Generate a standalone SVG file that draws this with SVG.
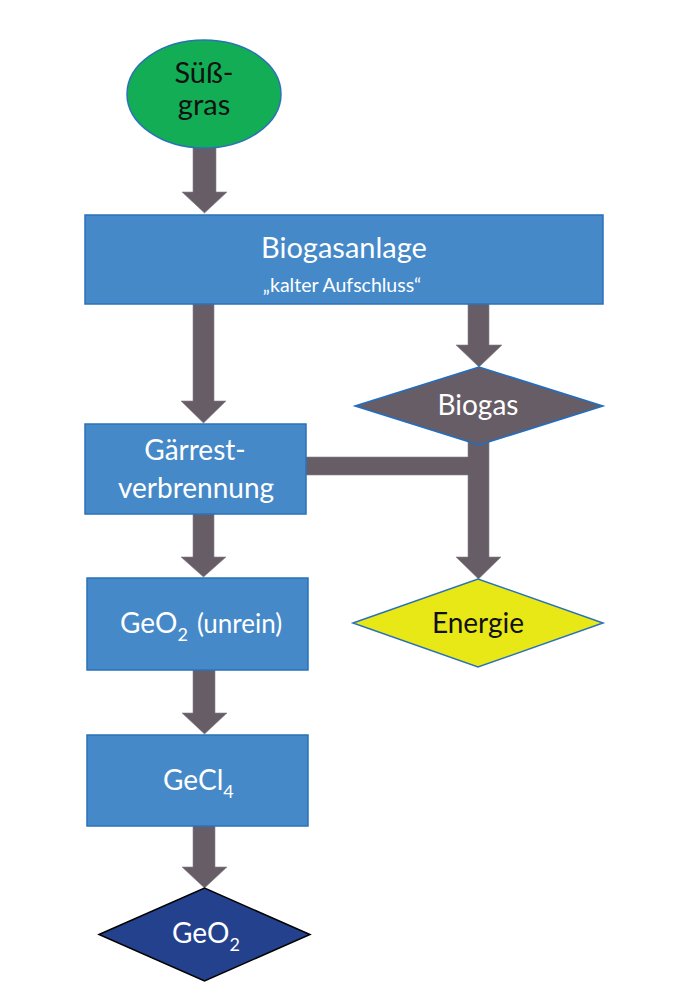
<svg xmlns="http://www.w3.org/2000/svg" width="677" height="1000" viewBox="0 0 677 1000">
  <style>
    .arrow { fill: #675D66; stroke: #8A8289; stroke-width: 0.6; }
    .box { fill: #4589C9; stroke: #2A72B8; stroke-width: 1.5; }
    .lbl { font-family: Lato, "Open Sans", "Liberation Sans", sans-serif; font-size: 28px; fill: #FFFFFF; text-anchor: middle; }
    .dark { fill: #111111; }
    .sub { font-size: 18px; }
  </style>
  <rect width="677" height="1000" fill="#FFFFFF"/>
  <g id="connectors">
    <polygon class="arrow" points="193,146 216,146 216,192 227,192 204.5,213 182,192 193,192"/>
    <polygon class="arrow" points="193,304 214,304 214,401 226,401 203.5,423 181,401 193,401"/>
    <polygon class="arrow" points="468,304 489,304 489,345 502,345 479,367 456,345 468,345"/>
    <polygon class="arrow" points="306,457 468,457 468,440 489,440 489,557 501,557 478.5,579 456,557 468,557 468,475 306,475"/>
    <polygon class="arrow" points="193,514 214,514 214,557 226,557 203.5,577 181,557 193,557"/>
    <polygon class="arrow" points="193,670 215,670 215,713 227,713 204.5,734 182,713 193,713"/>
    <polygon class="arrow" points="193,826 215,826 215,867 227,867 204.5,888 182,867 193,867"/>
  </g>
  <g id="suessgras">
    <ellipse cx="204" cy="94" rx="77" ry="54" fill="#12AD55" stroke="#2A72B8" stroke-width="1.5"/>
    <text class="lbl dark" x="204" y="83" style="font-size:29px">Süß-</text>
    <text class="lbl dark" x="204" y="115" style="font-size:29px">gras</text>
  </g>
  <g id="biogasanlage">
    <rect class="box" x="85" y="215" width="518" height="89"/>
    <text class="lbl" x="344" y="258" style="font-size:29px">Biogasanlage</text>
    <text class="lbl" x="342" y="292" style="font-size:19.5px">„kalter Aufschluss“</text>
  </g>
  <g id="biogas">
    <polygon points="355,406 479,367 603,406 479,445" fill="#675D66" stroke="#1F6FC4" stroke-width="1.5"/>
    <text class="lbl" x="478" y="415">Biogas</text>
  </g>
  <g id="gaerrest">
    <rect class="box" x="85" y="424" width="221" height="90"/>
    <text class="lbl" x="195" y="460">Gärrest-</text>
    <text class="lbl" x="196" y="498">verbrennung</text>
  </g>
  <g id="energie">
    <polygon points="353,623 478,579 603,623 478,667" fill="#E9E817" stroke="#2A72B8" stroke-width="1.5"/>
    <text class="lbl dark" x="478" y="633">Energie</text>
  </g>
  <g id="geo2-unrein">
    <rect class="box" x="87" y="578" width="221" height="92"/>
    <text class="lbl" x="120" y="633" style="text-anchor:start">GeO<tspan class="sub" dy="8">2</tspan><tspan x="197" dy="-8" style="font-size:26px">(unrein)</tspan></text>
  </g>
  <g id="gecl4">
    <rect class="box" x="87" y="735" width="221" height="91"/>
    <text class="lbl" x="163" y="790" style="text-anchor:start">GeCl<tspan class="sub" dy="8">4</tspan></text>
  </g>
  <g id="geo2">
    <polygon points="99,934.5 204.5,888 310,934.5 204.5,981" fill="#23418D" stroke="#000000" stroke-width="1.5"/>
    <text class="lbl" x="172" y="943" style="text-anchor:start">GeO<tspan class="sub" dy="8">2</tspan></text>
  </g>
</svg>
